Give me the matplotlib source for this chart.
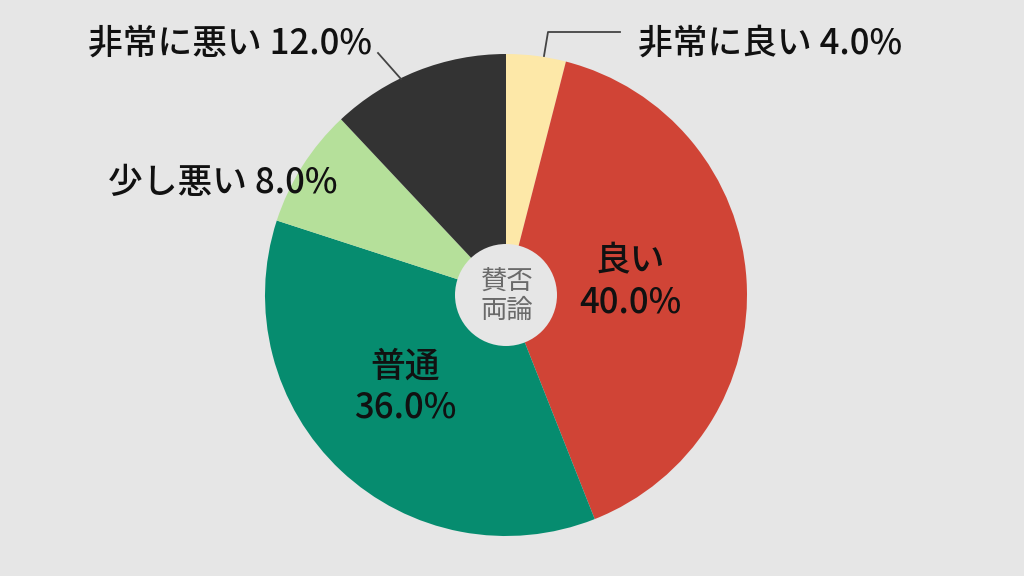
import matplotlib
matplotlib.use("Agg")
import matplotlib.pyplot as plt
from matplotlib.patches import Circle

categories = ["非常に良い", "良い", "普通", "少し悪い", "非常に悪い"]
values = [4.0, 40.0, 36.0, 8.0, 12.0]
colors = ["#FDE8A8", "#D04436", "#068C6F", "#B5E09A", "#333333"]
center_text = "賛否\n両論"

plt.rcParams['font.family'] = ['Noto Sans CJK JP', 'DejaVu Sans']
BG = "#E6E6E6"

W, H = 1024, 576
fig = plt.figure(figsize=(W / 100, H / 100), dpi=100, facecolor=BG)
ax = fig.add_axes([0, 0, 1, 1])
ax.set_facecolor(BG)

def Y(y):
    return H - y

cx, cy, R = 506, Y(295), 241
ax.pie(values, colors=colors, startangle=90, counterclock=False,
       center=(cx, cy), radius=R, frame=True,
       wedgeprops=dict(linewidth=0))
ax.set_xlim(0, W)
ax.set_ylim(0, H)
ax.axis("off")
ax.set_aspect("equal")

# center circle
ax.add_patch(Circle((cx, cy), 51, facecolor=BG, edgecolor="none", zorder=5))
ax.text(cx + 1, cy - 1, center_text, ha="center", va="center", fontsize=19,
        color="#6A6A6A", linespacing=1.05, zorder=6)

fs = 25
tc = "#111111"
# inside labels
ax.text(630, Y(282), f"{categories[1]}\n{values[1]:.1f}%", ha="center", va="center",
        fontsize=fs, color=tc, linespacing=1.2, fontweight="medium")
ax.text(405, Y(387), f"{categories[2]}\n{values[2]:.1f}%", ha="center", va="center",
        fontsize=fs, color=tc, linespacing=1.2, fontweight="medium")

# outside labels
ax.text(638, Y(44), f"{categories[0]} {values[0]:.1f}%", ha="left", va="center",
        fontsize=fs, color=tc, fontweight="medium")
ax.plot([544, 548, 620], [Y(56), Y(32), Y(32)], color="#444444", lw=1.3)

ax.text(372, Y(44), f"{categories[4]} {values[4]:.1f}%", ha="right", va="center",
        fontsize=fs, color=tc, fontweight="medium")
ax.plot([378, 401], [Y(53), Y(79)], color="#444444", lw=1.3)

ax.text(338, Y(183), f"{categories[3]} {values[3]:.1f}%", ha="right", va="center",
        fontsize=fs, color=tc, fontweight="medium")

fig.savefig("out.png", dpi=100, facecolor=BG)
